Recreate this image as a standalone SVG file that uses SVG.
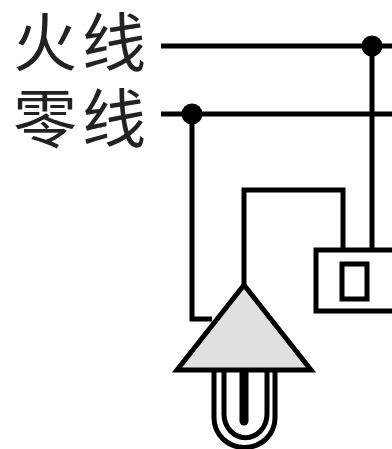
<svg xmlns="http://www.w3.org/2000/svg" width="392" height="449" viewBox="0 0 392 449">
<style>
.w{fill:none;stroke:#000;stroke-width:5}
.t{font-family:"Liberation Sans","Noto Sans CJK SC","Noto Sans CJK JP",sans-serif;font-size:64px;fill:#222}
.d{fill:#000}
</style>
<rect width="392" height="449" fill="#fff"/>
<g id="labels">
<text class="t" x="13" y="66">火</text><text class="t" x="82" y="66">线</text>
<text class="t" x="13" y="142">零</text><text class="t" x="82" y="142">线</text>
</g>
<g id="connectors">
<path class="w" d="M161 46H392M161 114H392M192 114V319H212M244 290V190H343V250M372 46V250"/>
<circle class="d" cx="372" cy="46" r="10.5"/>
<circle class="d" cx="192" cy="114" r="10.5"/>
</g>
<g id="switch">
<rect class="w" x="316" y="250" width="80" height="61" fill="#fff"/>
<rect class="w" x="342" y="264" width="25" height="35"/>
</g>
<g id="lamp">
<path class="w" d="M214 370V418A30 29 0 0 0 275 418V370"/>
<path class="w" d="M224 370V414A20 22 0 0 0 267 414V370"/>
<path d="M244 370V421" fill="none" stroke="#000" stroke-width="9" stroke-linecap="round"/>
<polygon points="244,285 177,370 311,370" fill="#e0e0e0" stroke="#000" stroke-width="5" stroke-linejoin="miter"/>
</g>
</svg>
